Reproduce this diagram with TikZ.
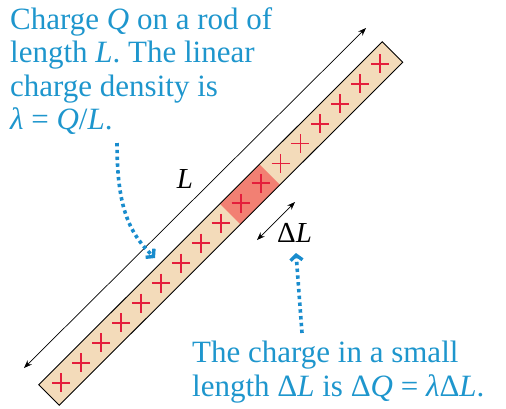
\documentclass[tikz,border=0pt]{standalone}
\usepackage{fontspec}
\setmainfont{Liberation Serif}
\usetikzlibrary{arrows.meta,calc}
\definecolor{txtblue}{RGB}{30,150,205}
\definecolor{dotblue}{RGB}{25,140,205}
\definecolor{rodfill}{RGB}{243,219,186}
\definecolor{segred}{RGB}{242,128,115}
\definecolor{plusred}{RGB}{228,30,60}
\begin{document}
\begin{tikzpicture}[x=1pt,y=-1pt,
  caption/.style={text=txtblue, font=\fontsize{31}{33.5}\selectfont, align=left, inner sep=0pt},
  lbl/.style={font=\fontsize{29}{30}\selectfont, inner sep=0pt},
  dim/.style={line width=0.7pt, {Stealth[length=8pt,width=6pt]}-{Stealth[length=8pt,width=6pt]}},
  pointer/.style={dotblue, line width=3.6pt, dash pattern=on 3.4pt off 3.4pt, -{Straight Barb[length=5pt,width=12pt,line width=3.4pt]}},
  plusmark/.style={plusred, line width=1.9pt}]
\useasboundingbox (0,0) rectangle (506,408);
% rod axis
\coordinate (A) at (49,395);
\coordinate (B) at (392.5,52);
% rod body
\fill[rodfill] (38.75,384.75) -- (59.25,405.25) -- (402.75,62.25) -- (382.25,41.75) -- cycle;
% highlighted small length
\fill[segred] (219.77,203.73) -- (240.27,224.23) -- (279.87,184.63) -- (259.37,164.13) -- cycle;
\draw[line width=0.9pt] (38.75,384.75) -- (59.25,405.25) -- (402.75,62.25) -- (382.25,41.75) -- cycle;
% plus charges
\foreach \k in {0,...,16}{
  \pgfmathsetmacro\dd{(17.25+28.2*\k)/sqrt(2)}
  \coordinate (q\k) at (49+\dd,395-\dd);
  \draw[plusmark] ($(q\k)+(-9,0)$) -- ($(q\k)+(9,0)$) ($(q\k)+(0,-9.5)$) -- ($(q\k)+(0,9.5)$);
}
% length arrow L
\coordinate (Ltop) at (366,28);
\coordinate (Lbot) at (24,368);
\draw[dim] (Lbot) -- (Ltop);
\node[lbl, anchor=base] (Llab) at (185,188) {\textit{L}};
% small length arrow
\coordinate (dLa) at (257,240);
\coordinate (dLb) at (295,202);
\draw[dim] (dLa) -- (dLb);
\node[lbl, anchor=base west] (dLlab) at (277,242) {Δ\textit{L}};
% captions
\node[caption, anchor=north west] (top) at (10,7) {Charge \textit{Q} on a rod of\\length \textit{L}. The linear\\charge density is\\\textit{λ} = \textit{Q}/\textit{L}.};
\node[caption, anchor=north west] (bot) at (192,341) {The charge in a small\\length Δ\textit{L} is Δ\textit{Q} = \textit{λ}Δ\textit{L}.};
% pointers
\coordinate (p1s) at (117,143);
\coordinate (p1e) at (155,258);
\draw[pointer] (p1s) .. controls (117,205) and (128,232) .. (p1e);
\coordinate (p2s) at (302,333);
\coordinate (p2e) at (296,253);
\draw[pointer] (p2s) -- (p2e);
\end{tikzpicture}
\end{document}
